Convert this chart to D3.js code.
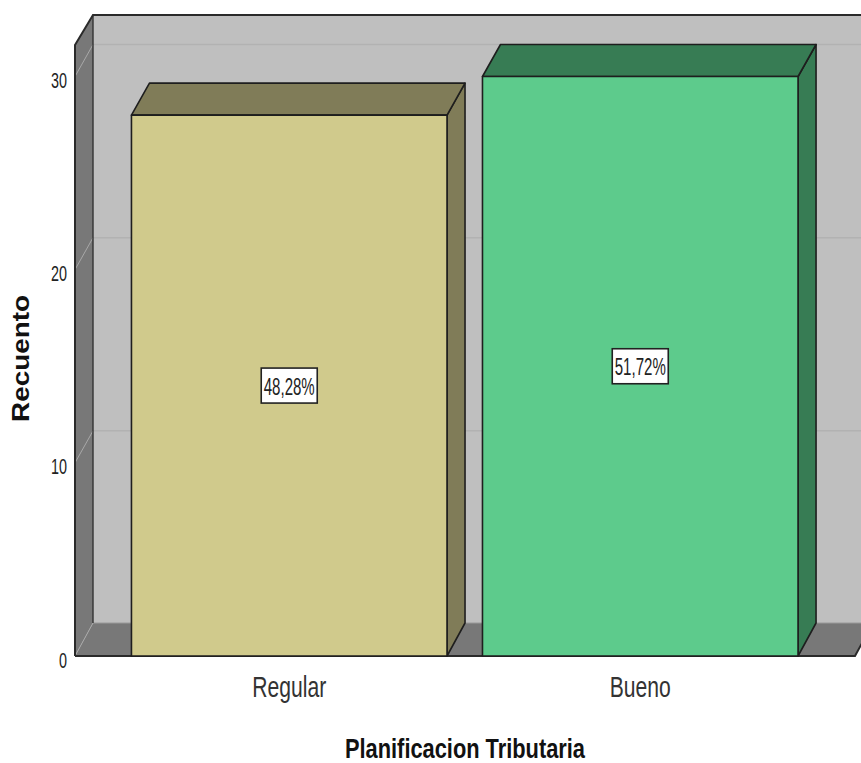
<!DOCTYPE html>
<html>
<head>
<meta charset="utf-8">
<script src="https://cdn.jsdelivr.net/npm/d3@7"></script>
<style>
    html, body { margin: 0; background: #fff; overflow: hidden; }
    svg { display: block; }
    text { font-family: "Liberation Sans", sans-serif; }
</style>
</head>
<body>
<svg id="chart" width="861" height="763"></svg>
<script>
'use strict';

const categories = ["Regular", "Bueno"];
const counts = [28, 30];
const percentLabels = ["48,28%", "51,72%"];
const yTicks = [0, 10, 20, 30];
const barFronts = ["#d0ca8c", "#5dcb8c"];
const barSides = ["#807c58", "#377c54"];

const DEPTH_X = 18;
const FLOOR_DEPTH_Y = -33;
const TOP_DEPTH_Y = -32;
const FRONT_LEFT = 75;
const FRONT_RIGHT = 855;
const TOP_BACK = 15;
const TOP_FRONT = 45;

const svg = d3.select("#chart");

const y = d3.scaleLinear().domain([0, 30]).range([656, 76.5]);
const x = d3.scaleBand().domain(categories).range([96, 833.5]).padding(0.101);

const poly = (pts) => pts.map(p => p.join(",")).join(" ");
const base = y(0);
const backLeft = FRONT_LEFT + DEPTH_X;
const backRight = FRONT_RIGHT + DEPTH_X;
const backBase = base + FLOOR_DEPTH_Y;

/**
 * Squeeze a text to the narrow width it has in the picture
 */
function squeeze(sel, width) {
    sel.attr("textLength", width).attr("lengthAdjust", "spacingAndGlyphs");
}

// back wall
svg.append("polygon")
    .attr("points", poly([[backLeft, TOP_BACK], [backRight, TOP_BACK], [backRight, backBase], [backLeft, backBase]]))
    .attr("fill", "#bfbfbf");

// left wall and floor
svg.append("polygon")
    .attr("points", poly([[FRONT_LEFT, TOP_FRONT], [backLeft, TOP_BACK], [backLeft, backBase], [FRONT_LEFT, base]]))
    .attr("fill", "#787878");
svg.append("polygon")
    .attr("points", poly([[FRONT_LEFT, base], [backLeft, backBase], [backRight, backBase], [FRONT_RIGHT, base]]))
    .attr("fill", "#787878");

// gridlines on both walls
const grid = svg.append("g");
grid.selectAll("line.back")
    .data(yTicks.filter(d => d > 0))
    .enter()
    .append("line")
    .attr("class", "back")
    .attr("x1", backLeft)
    .attr("x2", backRight)
    .attr("y1", d => y(d) + TOP_DEPTH_Y)
    .attr("y2", d => y(d) + TOP_DEPTH_Y)
    .attr("stroke", "#b2b2b2")
    .attr("stroke-width", 1.5);
grid.selectAll("line.side")
    .data(yTicks)
    .enter()
    .append("line")
    .attr("class", "side")
    .attr("x1", FRONT_LEFT)
    .attr("x2", backLeft)
    .attr("y1", d => y(d))
    .attr("y2", d => y(d) + (d > 0 ? TOP_DEPTH_Y : FLOOR_DEPTH_Y))
    .attr("stroke", "#a8a8a8")
    .attr("stroke-width", 1);

// wall outlines
svg.append("line")
    .attr("x1", backLeft).attr("x2", backRight)
    .attr("y1", backBase).attr("y2", backBase)
    .attr("stroke", "#9a9a9a").attr("stroke-width", 1.2);
svg.append("line")
    .attr("x1", backLeft).attr("x2", backLeft)
    .attr("y1", TOP_BACK).attr("y2", backBase)
    .attr("stroke", "#333").attr("stroke-width", 1.4);
svg.append("polyline")
    .attr("points", poly([[FRONT_LEFT, base], [FRONT_LEFT, TOP_FRONT], [backLeft, TOP_BACK], [backRight, TOP_BACK]]))
    .attr("fill", "none").attr("stroke", "#2a2a2a").attr("stroke-width", 2);
svg.append("polyline")
    .attr("points", poly([[FRONT_LEFT, base], [FRONT_RIGHT, base], [backRight, backBase]]))
    .attr("fill", "none").attr("stroke", "#2a2a2a").attr("stroke-width", 2);

// bars
const bars = svg.selectAll("g.bar")
    .data(categories.map((c, i) => ({ c: c, v: counts[i], i: i })))
    .enter()
    .append("g")
    .attr("class", "bar")
    .attr("stroke", "#1e1e1e")
    .attr("stroke-width", 1.6)
    .attr("stroke-linejoin", "round");

bars.append("polygon")
    .attr("fill", d => barSides[d.i])
    .attr("points", d => {
        const r = x(d.c) + x.bandwidth();
        return poly([[r, y(d.v)], [r + DEPTH_X, y(d.v) + TOP_DEPTH_Y], [r + DEPTH_X, backBase], [r, base]]);
    });
bars.append("polygon")
    .attr("fill", d => barSides[d.i])
    .attr("points", d => {
        const l = x(d.c);
        const r = l + x.bandwidth();
        return poly([[l, y(d.v)], [l + DEPTH_X, y(d.v) + TOP_DEPTH_Y], [r + DEPTH_X, y(d.v) + TOP_DEPTH_Y], [r, y(d.v)]]);
    });
bars.append("rect")
    .attr("fill", d => barFronts[d.i])
    .attr("x", d => x(d.c))
    .attr("y", d => y(d.v))
    .attr("width", x.bandwidth())
    .attr("height", d => base - y(d.v));

// percent boxes
const boxes = svg.selectAll("g.pct")
    .data(categories.map((c, i) => ({ c: c, v: counts[i], label: percentLabels[i] })))
    .enter()
    .append("g")
    .attr("class", "pct")
    .attr("transform", d => "translate(" + (x(d.c) + x.bandwidth() / 2) + "," + y(d.v / 2) + ")");
boxes.append("rect")
    .attr("x", -28).attr("y", -17.5)
    .attr("width", 56).attr("height", 35)
    .attr("fill", "#fff").attr("stroke", "#222").attr("stroke-width", 1.6);
boxes.append("text")
    .attr("text-anchor", "middle")
    .attr("y", 9)
    .attr("font-size", 23.5)
    .attr("fill", "#222")
    .text(d => d.label)
    .call(squeeze, 51);

// axes
const yAxis = svg.append("g")
    .attr("transform", "translate(" + (FRONT_LEFT - 8) + ",0)")
    .call(d3.axisLeft(y).tickValues(yTicks).tickSize(0).tickPadding(0));
yAxis.select(".domain").remove();
yAxis.selectAll("text")
    .attr("font-size", 22)
    .attr("font-family", null)
    .attr("fill", "#222")
    .attr("dy", null)
    .attr("y", 11)
    .attr("textLength", d => (String(d).length) * 8)
    .attr("lengthAdjust", "spacingAndGlyphs");

const xAxis = svg.append("g")
    .attr("transform", "translate(0," + base + ")")
    .call(d3.axisBottom(x).tickSize(0).tickPadding(0));
xAxis.select(".domain").remove();
xAxis.selectAll("text")
    .attr("font-size", 30)
    .attr("fill", "#333")
    .attr("dy", null)
    .attr("y", 41)
    .attr("textLength", d => d === "Regular" ? 74 : 61)
    .attr("lengthAdjust", "spacingAndGlyphs");

// axis titles
svg.append("text")
    .attr("x", 465).attr("y", 757.5)
    .attr("text-anchor", "middle")
    .attr("font-size", 28)
    .attr("font-weight", "bold")
    .attr("fill", "#111")
    .text("Planificacion Tributaria")
    .call(squeeze, 240);
svg.append("text")
    .attr("transform", "translate(29,358.5) rotate(-90)")
    .attr("text-anchor", "middle")
    .attr("font-size", 23.5)
    .attr("font-weight", "bold")
    .attr("fill", "#111")
    .text("Recuento")
    .call(squeeze, 127);
</script>
</body>
</html>
